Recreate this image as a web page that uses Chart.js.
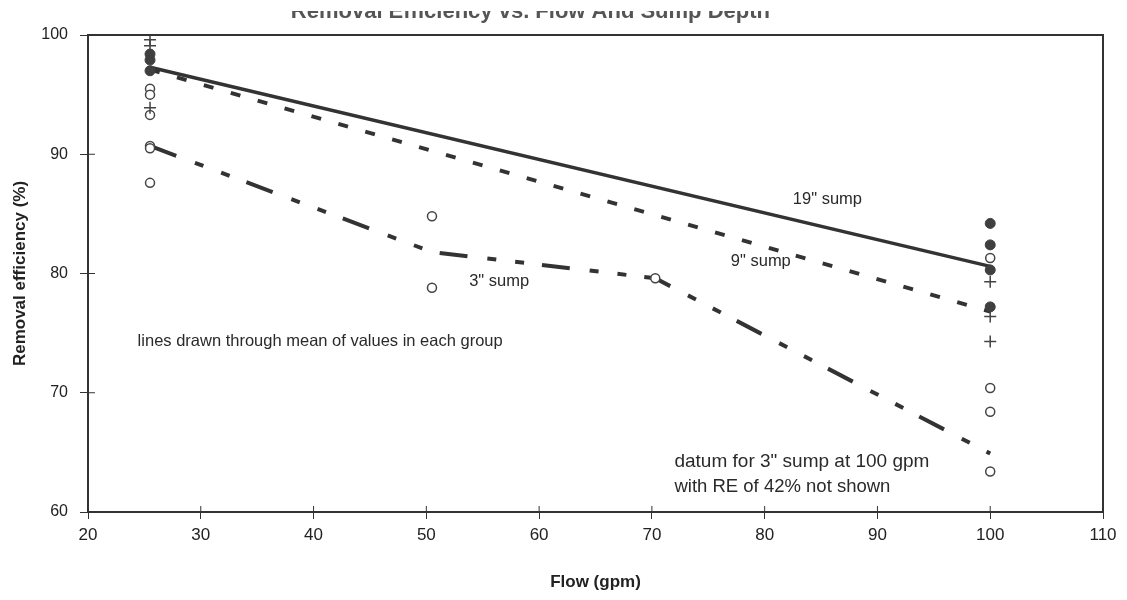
<!DOCTYPE html>
<html>
<head>
<meta charset="utf-8">
<title>Removal efficiency vs flow</title>
<script src="https://cdn.jsdelivr.net/npm/chart.js@4.4.1/dist/chart.umd.min.js"></script>
<style>
  html, body { margin: 0; padding: 0; background: #fff; }
  #wrap { width: 1127px; height: 600px; }
</style>
</head>
<body>
<div id="wrap"><canvas id="reChart" width="1127" height="600"></canvas></div>
<script>
// flow columns (gpm) as they sit on the scanned axis
const flowA = 25.5, flowB = 50.5, flowC = 70.3, flowD = 100;

// individual measurements, removal efficiency (%)
const sump19Flow = [flowA, flowA, flowA, flowD, flowD, flowD, flowD];
const sump19RE   = [98.4, 97.9, 97.0, 84.2, 82.4, 80.3, 77.2];

const sump9Flow = [flowA, flowA, flowA, flowD, flowD, flowD];
const sump9RE   = [99.6, 99.1, 93.9, 79.3, 76.4, 74.3];

const sump3Flow = [flowA, flowA, flowA, flowA, flowA, flowA, flowB, flowB, flowC, flowD, flowD, flowD, flowD];
const sump3RE   = [95.5, 95.0, 93.3, 90.7, 90.5, 87.6, 84.8, 78.8, 79.6, 81.3, 70.4, 68.4, 63.4];

// group means (the lines)
const mean19Flow = [flowA, flowD];
const mean19RE   = [97.3, 80.6];
const mean9Flow  = [flowA, flowD];
const mean9RE    = [97.1, 76.8];
const mean3Flow  = [flowA, flowB, flowC, flowD];
const mean3RE    = [90.7, 81.8, 79.6, 64.9];

const xTicks = [20, 30, 40, 50, 60, 70, 80, 90, 100, 110];
const yTicks = [60, 70, 80, 90, 100];

const ink = "#333";
const fontFam = "'Liberation Sans', Arial, Helvetica, sans-serif";

function pts(xs, ys) {
    return xs.map((x, i) => ({ x: x, y: ys[i] }));
}

// text notes placed in data coordinates
const notes = [
    { text: '19" sump', x: 82.5, y: 86.2, size: 16.5 },
    { text: '9" sump', x: 77.0, y: 81.0, size: 16.5 },
    { text: '3" sump', x: 53.8, y: 79.3, size: 16.5 },
    { text: 'lines drawn through mean of values in each group', x: 24.4, y: 74.3, size: 16.5 },
    { text: 'datum for 3" sump at 100 gpm', x: 72.0, y: 64.2, size: 19 },
    { text: 'with RE of 42% not shown', x: 72.0, y: 62.1, size: 18.5 }
];

const extras = {
    id: "extras",
    afterDraw(chart) {
        const ctx = chart.ctx;
        const a = chart.chartArea;
        const xs = chart.scales.x, ys = chart.scales.y;
        ctx.save();
        // frame top + right
        ctx.strokeStyle = ink;
        ctx.lineWidth = 2;
        ctx.beginPath();
        ctx.moveTo(a.left, a.top);
        ctx.lineTo(a.right, a.top);
        ctx.lineTo(a.right, a.bottom);
        ctx.stroke();
        // inner halves of tick marks
        ctx.lineWidth = 1;
        xTicks.forEach(v => {
            const px = xs.getPixelForValue(v);
            ctx.beginPath();
            ctx.moveTo(px, a.bottom);
            ctx.lineTo(px, a.bottom - 6);
            ctx.stroke();
        });
        yTicks.forEach(v => {
            const py = ys.getPixelForValue(v);
            ctx.beginPath();
            ctx.moveTo(a.left, py);
            ctx.lineTo(a.left + 7, py);
            ctx.stroke();
        });
        // notes
        ctx.fillStyle = "#2a2a2a";
        ctx.textAlign = "left";
        ctx.textBaseline = "middle";
        notes.forEach(n => {
            ctx.font = n.size + "px " + fontFam;
            ctx.fillText(n.text, xs.getPixelForValue(n.x), ys.getPixelForValue(n.y));
        });
        // title, only its lower half survived the scan
        ctx.beginPath();
        ctx.rect(0, 11, chart.width, 18);
        ctx.clip();
        ctx.font = "bold 22px " + fontFam;
        ctx.textAlign = "right";
        ctx.textBaseline = "alphabetic";
        ctx.fillStyle = "#555";
        ctx.fillText("Removal Efficiency vs. Flow And Sump Depth", 770, 18);
        ctx.restore();
    }
};

const ctx = document.getElementById("reChart").getContext("2d");
new Chart(ctx, {
    type: "scatter",
    data: {
        datasets: [
            {
                label: '19" sump data',
                data: pts(sump19Flow, sump19RE),
                pointStyle: "circle",
                pointRadius: 5,
                backgroundColor: "#3f3f3f",
                borderColor: "#3f3f3f",
                borderWidth: 1
            },
            {
                label: '9" sump data',
                data: pts(sump9Flow, sump9RE),
                pointStyle: "cross",
                pointRadius: 6,
                borderColor: "#444",
                borderWidth: 1.5
            },
            {
                label: '3" sump data',
                data: pts(sump3Flow, sump3RE),
                pointStyle: "circle",
                pointRadius: 4.5,
                backgroundColor: "#fff",
                borderColor: "#444",
                borderWidth: 1.5
            },
            {
                label: '19" sump',
                data: pts(mean19Flow, mean19RE),
                showLine: true,
                pointRadius: 0,
                borderColor: ink,
                borderWidth: 3.5
            },
            {
                label: '9" sump',
                data: pts(mean9Flow, mean9RE),
                showLine: true,
                pointRadius: 0,
                borderColor: ink,
                borderWidth: 4,
                borderDash: [10, 18]
            },
            {
                label: '3" sump',
                data: pts(mean3Flow, mean3RE),
                showLine: true,
                pointRadius: 0,
                borderColor: ink,
                borderWidth: 4,
                borderDash: [28, 20, 9, 19, 9, 18]
            }
        ]
    },
    options: {
        responsive: false,
        animation: false,
        layout: { padding: { top: 35, right: 24, left: 0, bottom: 0 } },
        plugins: {
            legend: { display: false },
            tooltip: { enabled: false }
        },
        scales: {
            x: {
                type: "linear",
                min: 20,
                max: 110,
                afterFit: s => { s.height = 88; },
                afterBuildTicks: s => { s.ticks = xTicks.map(v => ({ value: v })); },
                grid: { drawOnChartArea: false, tickLength: 7, color: ink },
                border: { display: true, color: ink, width: 2 },
                ticks: { color: "#222", padding: 6, font: { family: fontFam, size: 17 } },
                title: {
                    display: true,
                    text: "Flow (gpm)",
                    color: "#222",
                    padding: { top: 0, bottom: 7 },
                    font: { family: fontFam, size: 17, weight: "bold" }
                }
            },
            y: {
                type: "linear",
                min: 60,
                max: 100,
                afterFit: s => { s.width = 88; },
                afterBuildTicks: s => { s.ticks = yTicks.map(v => ({ value: v })); },
                grid: { drawOnChartArea: false, tickLength: 8, color: ink },
                border: { display: true, color: ink, width: 2 },
                ticks: { color: "#222", padding: 12, font: { family: fontFam, size: 16 } },
                title: {
                    display: true,
                    text: "Removal efficiency (%)",
                    color: "#222",
                    padding: { top: 10, bottom: 0 },
                    font: { family: fontFam, size: 17, weight: "bold" }
                }
            }
        }
    },
    plugins: [extras]
});
</script>
</body>
</html>
